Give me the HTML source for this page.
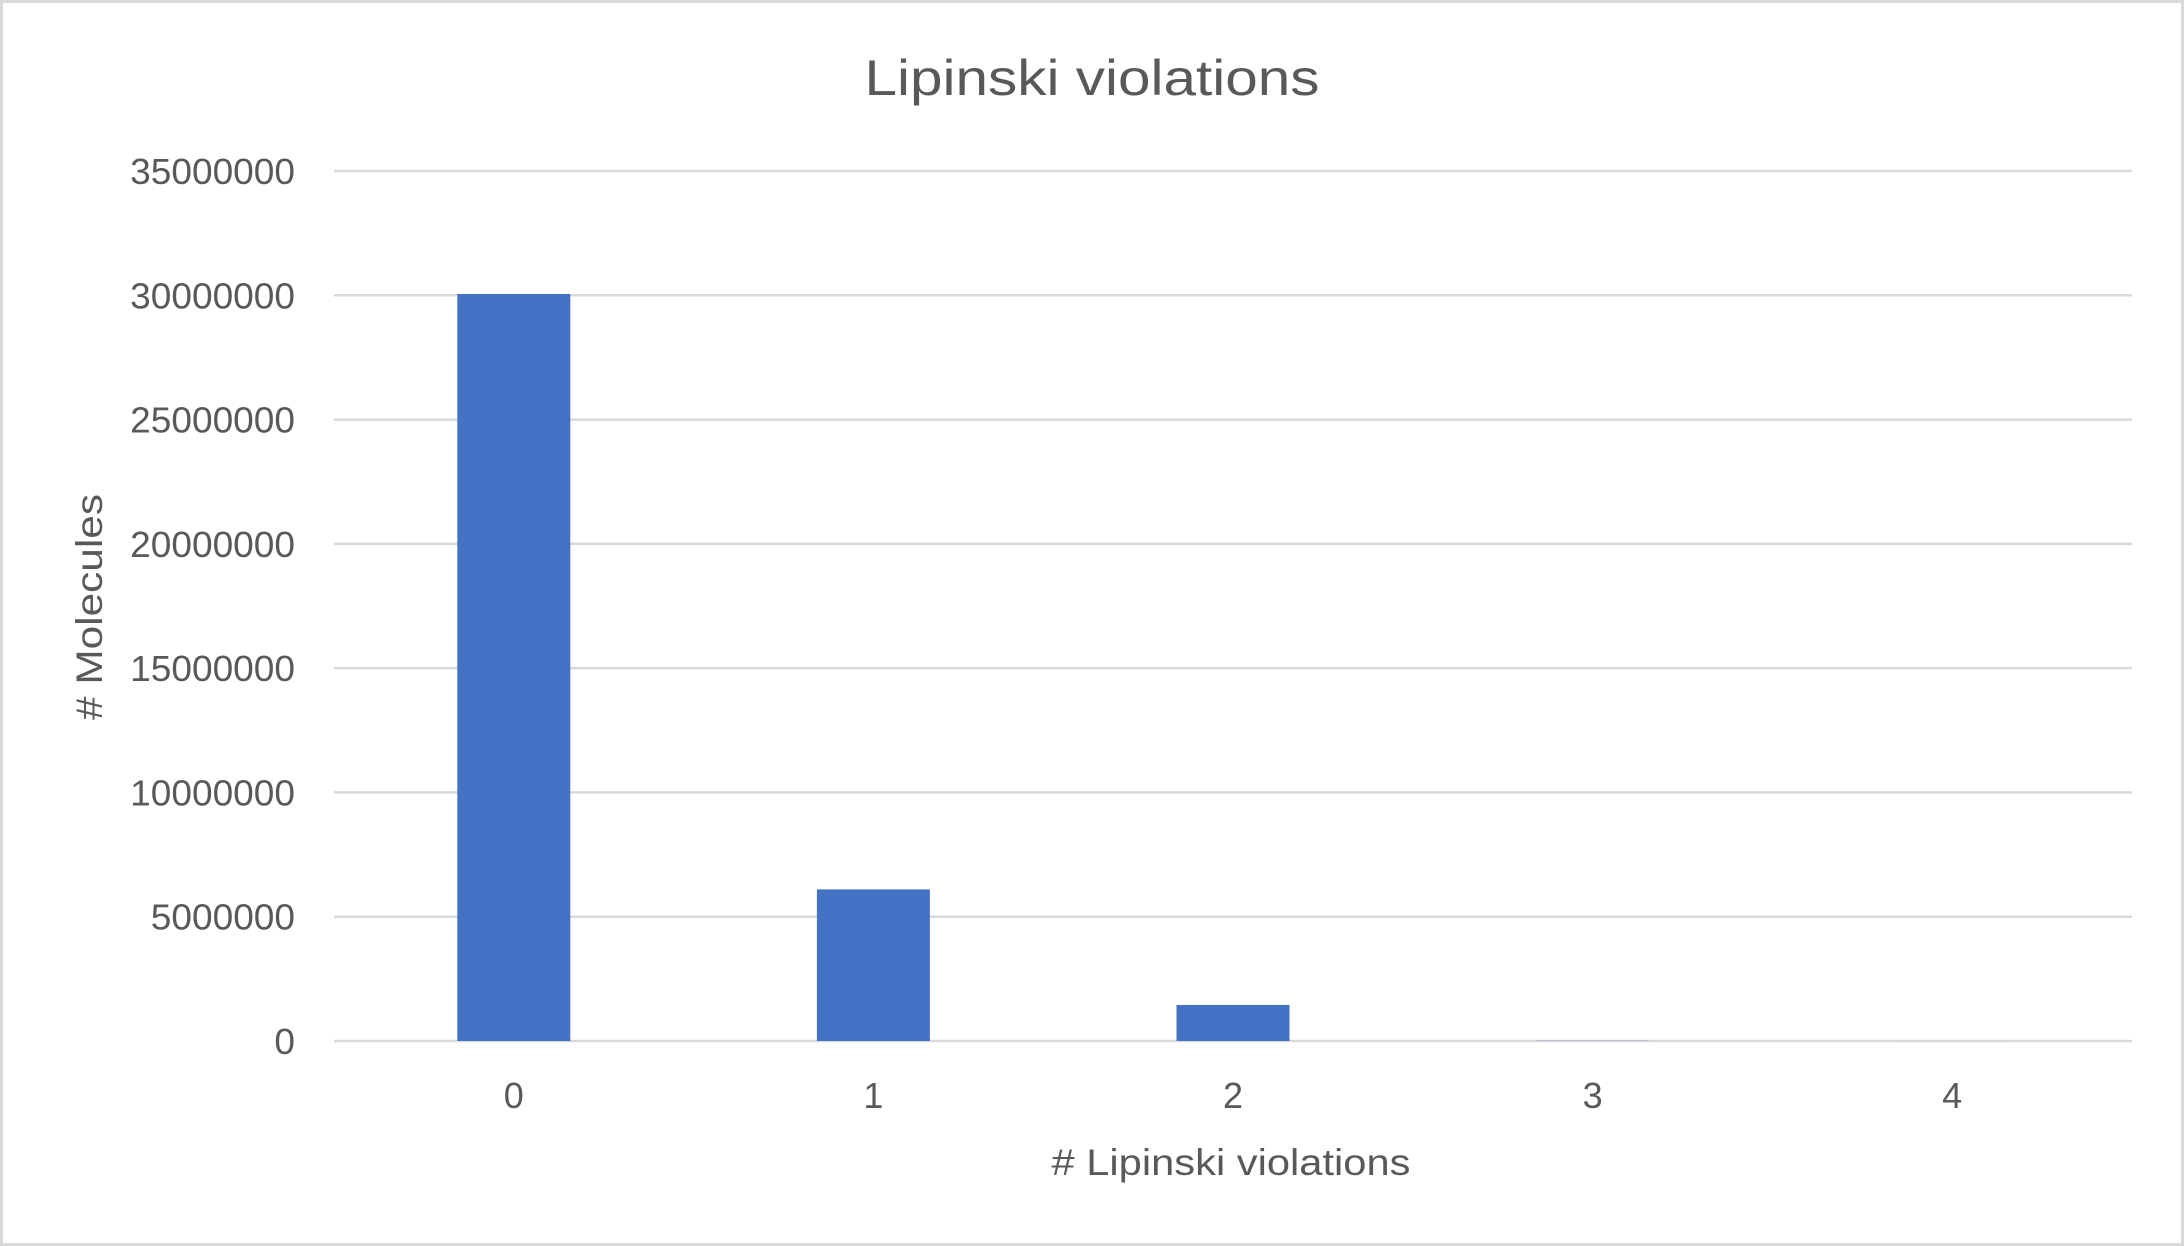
<!DOCTYPE html>
<html><head><meta charset="utf-8"><style>
html,body{margin:0;padding:0;background:#fff;}
svg{display:block;font-family:"Liberation Sans",sans-serif;}
</style></head><body>
<svg id="chart" width="2184" height="1246" viewBox="0 0 2184 1246">
<rect x="1.5" y="1.5" width="2181" height="1243" fill="#fff" stroke="#d9d9d9" stroke-width="3"/>
<text x="1092" y="95" text-anchor="middle" font-size="50" fill="#595959" textLength="455" lengthAdjust="spacingAndGlyphs">Lipinski violations</text>
<g id="grid"></g>
<g id="bars"></g>
<g id="labels"></g>
<text x="1231" y="1175" text-anchor="middle" font-size="37" fill="#595959" textLength="359" lengthAdjust="spacingAndGlyphs"># Lipinski violations</text>
<text transform="translate(102,607) rotate(-90)" text-anchor="middle" font-size="37" fill="#595959" textLength="226" lengthAdjust="spacingAndGlyphs"># Molecules</text>
</svg>
<script>
const categories = ["0","1","2","3","4"];
const values = [30050000, 6100000, 1450000, 8000, 500];
const yTicks = [0,5000000,10000000,15000000,20000000,25000000,30000000,35000000];
const NS="http://www.w3.org/2000/svg";
const L=334,R=2132,Y0=1041,Ytop=171,ymax=35000000;
const y=v=>Y0-(v/ymax)*(Y0-Ytop);
const bw=(R-L)/categories.length;
const xc=i=>L+bw*(i+0.5);
function mk(tag,attrs,parent){const e=document.createElementNS(NS,tag);for(const k in attrs)e.setAttribute(k,attrs[k]);document.getElementById(parent).appendChild(e);return e;}
yTicks.forEach(t=>{
  const g=mk('line',{x1:L,x2:R,y1:y(t),y2:y(t),stroke:'#d9d9d9','stroke-width':2.5},'grid');
  
  
  const s=String(t);
  const tx=mk('text',{x:295,y:y(t)+13,'text-anchor':'end','font-size':36,fill:'#595959',textLength:20.6*s.length,lengthAdjust:'spacingAndGlyphs'},'labels');
  tx.textContent=s;
  
  
});
categories.forEach((c,i)=>{
  const w=113;
  const b=mk('rect',{x:xc(i)-w/2,y:y(values[i]),width:w,height:Y0-y(values[i]),fill:'#4472c4'},'bars');
  
  
  const t=mk('text',{x:xc(i),y:1108,'text-anchor':'middle','font-size':36,fill:'#595959'},'labels');
  t.textContent=c;
  
  
});
</script>
</body></html>
